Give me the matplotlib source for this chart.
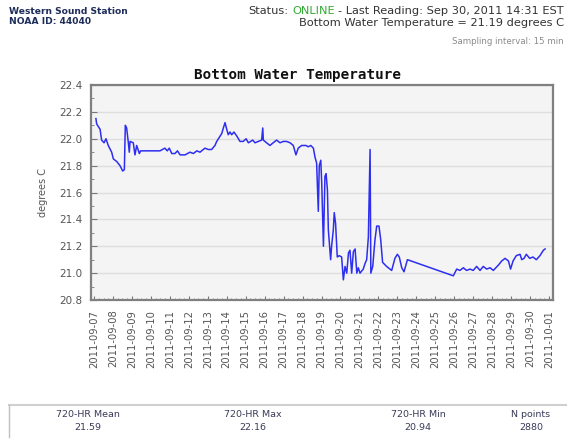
import numpy as np
import matplotlib
matplotlib.use('Agg')
import matplotlib.pyplot as plt
import matplotlib.dates as mdates
from matplotlib.lines import Line2D

# 读图得到的数据（9月的日+小数, 温度）
day = [7.10, 7.14, 7.32, 7.40, 7.53, 7.63, 7.75, 7.93, 8.02, 8.20, 8.37, 8.51, 8.60,
       8.65, 8.72, 8.81, 8.86, 8.90, 9.07, 9.16, 9.25, 9.39, 9.46, 10.48, 10.74,
       10.86, 10.97, 11.10, 11.27, 11.40, 11.54, 11.80, 12.06, 12.24, 12.42, 12.59,
       12.85, 13.03, 13.20, 13.38, 13.47, 13.65, 13.74, 13.82, 13.91, 14.00, 14.08,
       14.17, 14.26, 14.38, 14.53, 14.70, 14.87, 15.02, 15.14, 15.26, 15.37, 15.49,
       15.67, 15.84, 15.90, 15.93, 16.10, 16.28, 16.45, 16.63, 16.81, 16.98, 17.16,
       17.34, 17.51, 17.65, 17.77, 17.95, 18.18, 18.30, 18.43, 18.57, 18.66, 18.74,
       18.83, 18.88, 18.96, 19.01, 19.10, 19.18, 19.24, 19.31, 19.36, 19.48, 19.53,
       19.62, 19.67, 19.74, 19.83, 19.93, 20.06, 20.15, 20.24, 20.33, 20.42, 20.50,
       20.59, 20.68, 20.77, 20.86, 20.94, 21.03, 21.20, 21.29, 21.38, 21.47, 21.56,
       21.60, 21.70, 21.82, 21.91, 22.03, 22.12, 22.22, 22.43, 22.70, 22.87, 23.00,
       23.10, 23.23, 23.35, 23.53, 25.95, 26.13, 26.30, 26.48, 26.65, 26.83, 27.00,
       27.18, 27.36, 27.53, 27.71, 27.89, 28.06, 28.33, 28.50, 28.68, 28.86, 28.97,
       29.10, 29.27, 29.47, 29.56, 29.68, 29.80, 29.98, 30.15, 30.33, 30.52, 30.70,
       30.79]
temp = [22.15, 22.11, 22.07, 21.99, 21.97, 22.00, 21.95, 21.90, 21.85, 21.83, 21.80, 21.76, 21.77,
        22.10, 22.08, 21.97, 21.90, 21.98, 21.97, 21.88, 21.95, 21.89, 21.91, 21.91, 21.93,
        21.91, 21.93, 21.89, 21.89, 21.91, 21.88, 21.88, 21.90, 21.89, 21.91, 21.90,
        21.93, 21.92, 21.92, 21.95, 21.98, 22.02, 22.04, 22.08, 22.12, 22.07, 22.03,
        22.05, 22.03, 22.05, 22.02, 21.98, 21.98, 22.00, 21.97, 21.98, 21.99, 21.97,
        21.98, 21.99, 22.08, 21.99, 21.97, 21.95, 21.97, 21.99, 21.97, 21.98, 21.98,
        21.97, 21.95, 21.88, 21.93, 21.95, 21.95, 21.94, 21.95, 21.93, 21.86, 21.82,
        21.46, 21.80, 21.84, 21.67, 21.20, 21.72, 21.74, 21.62, 21.32, 21.10, 21.20,
        21.32, 21.45, 21.37, 21.12, 21.13, 21.12, 20.95, 21.05, 21.00, 21.15, 21.17,
        21.00, 21.16, 21.18, 21.00, 21.04, 21.00, 21.03, 21.07, 21.10, 21.27, 21.92,
        21.00, 21.05, 21.25, 21.35, 21.35, 21.25, 21.08, 21.05, 21.02, 21.11, 21.14,
        21.12, 21.04, 21.01, 21.10, 20.98, 21.03, 21.02, 21.04, 21.02, 21.03, 21.02,
        21.05, 21.02, 21.05, 21.03, 21.04, 21.02, 21.06, 21.09, 21.11, 21.09, 21.03,
        21.09, 21.13, 21.14, 21.10, 21.11, 21.14, 21.11, 21.12, 21.10, 21.13, 21.17,
        21.18]

stat_names = ['720-HR Mean', '720-HR Max', '720-HR Min', 'N points']
stat_values = ['21.59', '22.16', '20.94', '2880']

W, H = 567, 440
fig = plt.figure(figsize=(W / 100, H / 100), dpi=100)


def fx(px):
    return px / W


def fy(py):
    return 1 - py / H


t = np.datetime64('2011-09-01T00:00') + (np.array(day) - 1) * np.timedelta64(86400, 's')
t = t.astype('datetime64[s]').astype(object)

ax = fig.add_axes([fx(91), fy(300), fx(553) - fx(91), fy(85) - fy(300)])
ax.set_facecolor('#f4f4f4')
ax.plot(t, temp, color='#2e2ef0', lw=1.1)

ax.set_ylim(20.8, 22.4)
ax.set_yticks(np.arange(20.8, 22.41, 0.2))
ax.set_yticks(np.arange(20.8, 22.41, 0.1), minor=True)
ax.yaxis.set_major_formatter(matplotlib.ticker.FormatStrFormatter('%.1f'))
ax.set_xlim(mdates.datestr2num('2011-09-06 20:10'), mdates.datestr2num('2011-10-01 05:00'))
ax.xaxis.set_major_locator(mdates.DayLocator())
ax.xaxis.set_minor_locator(mdates.HourLocator(byhour=[6, 12, 18]))
ax.xaxis.set_major_formatter(mdates.DateFormatter('%Y-%m-%d'))
ax.grid(axis='y', which='major', color='#dedede', lw=1)
ax.set_axisbelow(True)

ax.tick_params(axis='both', which='both', direction='in', colors='#777777', labelcolor='#555555')
ax.tick_params(axis='y', which='major', length=4, labelsize=7.5, pad=6)
ax.tick_params(axis='y', which='minor', length=2)
ax.tick_params(axis='x', which='major', length=3, labelsize=7.2, pad=7, labelrotation=90)
ax.tick_params(axis='x', which='minor', length=1.5)
for s in ax.spines.values():
    s.set_color('#808080')
    s.set_linewidth(1.6)
ax.set_ylabel('degrees C', color='#555555', fontsize=7, labelpad=8)

fig.text(fx(298), fy(75), 'Bottom Water Temperature', family='DejaVu Sans Mono',
         weight='bold', fontsize=10.3, ha='center', va='center', color='#111111')

# 页眉
hdr = '#1e2d5a'
fig.text(fx(9), fy(11), 'Western Sound Station', weight='bold', fontsize=6.6, color=hdr, va='center')
fig.text(fx(9), fy(22), 'NOAA ID: 44040', weight='bold', fontsize=6.6, color=hdr, va='center')

renderer = fig.canvas.get_renderer()


def width(s, size):
    tt = fig.text(0, 0, s, fontsize=size)
    w = tt.get_window_extent(renderer=renderer).width
    tt.remove()
    return w


fs = 8.2
full = 'Status: ONLINE - Last Reading: Sep 30, 2011 14:31 EST'
tail = '- Last Reading: Sep 30, 2011 14:31 EST'
x0 = 564 - width(full, fs)
y0 = fy(11)
fig.text(fx(x0), y0, 'Status:', fontsize=fs, color='#333333', va='center')
fig.text(fx(x0 + width('Status: ONLINE', fs) - width('ONLINE', fs)), y0, 'ONLINE',
         fontsize=fs, color='#33aa33', va='center')
fig.text(fx(x0 + width(full, fs) - width(tail, fs)), y0, tail, fontsize=fs, color='#333333', va='center')
fig.text(fx(564), fy(23), 'Bottom Water Temperature = 21.19 degrees C', fontsize=fs,
         color='#333333', va='center', ha='right')
fig.text(fx(564), fy(42), 'Sampling interval: 15 min', fontsize=6.2,
         color='#8a8a8a', va='center', ha='right')

# 底部统计表
fig.add_artist(Line2D([fx(9), 1], [fy(405), fy(405)], color='#d0d0d0', lw=1.5))
fig.add_artist(Line2D([fx(9), fx(9)], [fy(405), fy(437)], color='#c0c0c0', lw=1))
cols = [88, 253, 418, 531]
for cx, n, v in zip(cols, stat_names, stat_values):
    fig.text(fx(cx), fy(414), n, fontsize=6.8, color='#3a3a5a', ha='center', va='center')
    fig.text(fx(cx), fy(427), v, fontsize=6.8, color='#3a3a5a', ha='center', va='center')

fig.savefig('out.png', dpi=100)
